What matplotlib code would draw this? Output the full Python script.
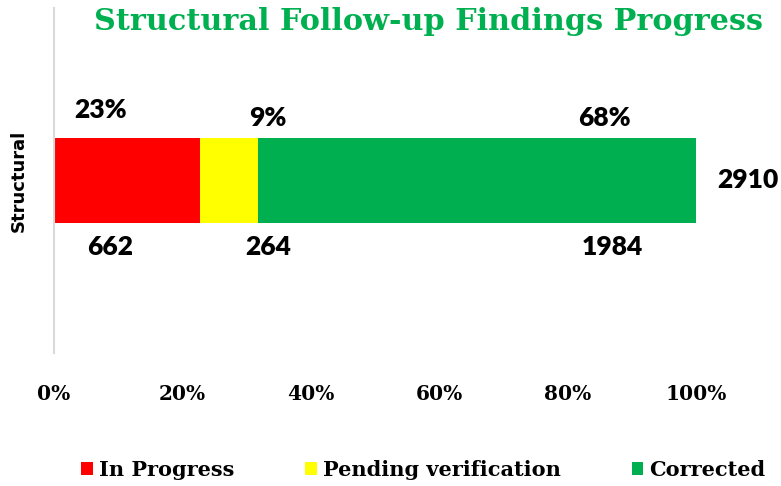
import matplotlib
matplotlib.use('agg')
import matplotlib.pyplot as plt
import numpy as np

# data
category = "Structural"
series = ["In Progress", "Pending verification", "Corrected"]
counts = [662, 264, 1984]
colors = ["#ff0000", "#ffff00", "#00b050"]
ticks = [0, 20, 40, 60, 80, 100]

total = sum(counts)
shares = [c / total * 100 for c in counts]

W, H = 781, 486
fig = plt.figure(figsize=(W / 100, H / 100), dpi=100)
ax = fig.add_axes([54 / W, (H - 353) / H, (696 - 54) / W, (353 - 8) / H])

left = 0
handles = []
for name, s, col in zip(series, shares, colors):
    b = ax.barh(0, s, left=left, height=0.487, color=col, label=name)
    handles.append(b)
    left += s

ax.set_xlim(0, 100)
ax.set_ylim(-1, 1)
ax.set_yticks([])
ax.set_xticks(ticks)
ax.set_xticklabels([f"{t}%" for t in ticks], family="DejaVu Serif",
                   fontweight="bold", fontsize=14.5)
ax.tick_params(axis="x", length=0, pad=22)
for sp in ["top", "right", "bottom"]:
    ax.spines[sp].set_visible(False)
ax.spines["left"].set_color("#d9d9d9")
ax.spines["left"].set_linewidth(1.5)

ax.set_ylabel(category, family="DejaVu Sans", fontweight="bold", fontsize=13,
              labelpad=19)

# label positions (x in % of the axis, y in data units)
pct_x = [7.2, 33.3, 85.8]
pct_y = [0.406, 0.365, 0.365]
cnt_x = [8.7, 33.3, 86.9]
cnt_y = [-0.383, -0.383, -0.383]
lab_font = dict(family="Lato", fontweight="heavy", fontsize=19,
                ha="center", va="center", color="black")
for i in range(3):
    ax.text(pct_x[i], pct_y[i], f"{shares[i]:.0f}%", **lab_font)
    ax.text(cnt_x[i], cnt_y[i], f"{counts[i]}", **lab_font)
ax.text(108.1, 0, f"{total}", clip_on=False, **lab_font)

fig.text(94 / W, 1 - 22 / H, "Structural Follow-up Findings Progress",
         family="DejaVu Serif", fontweight="heavy", fontsize=21.8,
         color="#00b050", ha="left", va="center")

fig.legend(handles=handles, loc="center", bbox_to_anchor=(0.542, 1 - 470 / H),
           ncol=3, frameon=False, handlelength=0.55, handleheight=0.55,
           handletextpad=0.3, columnspacing=3.4,
           prop=dict(family="DejaVu Serif", weight="bold", size=15))

fig.savefig("out.png", dpi=100)
